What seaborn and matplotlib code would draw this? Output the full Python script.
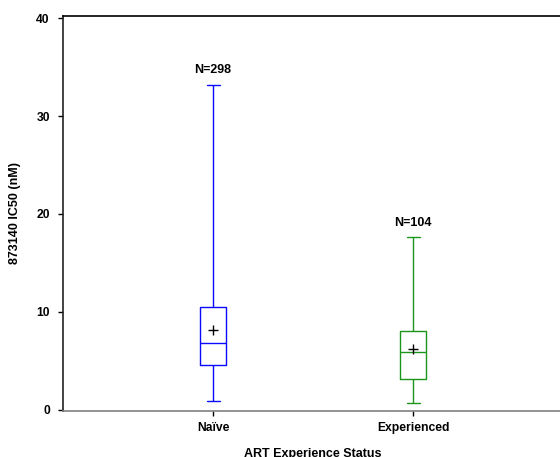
import matplotlib
matplotlib.use("Agg")
import matplotlib.pyplot as plt
import seaborn as sns
import pandas as pd

# five-number summaries
groups = ['Naïve', 'Experienced']
mins = [0.9, 0.7]
q1s = [4.55, 3.1]
medians = [6.8, 5.85]
q3s = [10.45, 8.0]
maxs = [33.2, 17.6]
means = [8.1, 6.2]
counts = [298, 104]

colors = {'Naïve': '#0a0aff', 'Experienced': '#1a961a'}

# 5 points per group -> quartiles land exactly on the summary values
rows = []
for i, g in enumerate(groups):
    for v in [mins[i], q1s[i], medians[i], q3s[i], maxs[i]]:
        rows.append({'status': g, 'ic50': v})
df = pd.DataFrame(rows)

sns.set_style('white')
plt.rcParams['font.family'] = ['Liberation Sans', 'DejaVu Sans']
plt.rcParams['font.weight'] = 'bold'
plt.rcParams['text.color'] = 'black'
plt.rcParams['axes.labelcolor'] = 'black'
plt.rcParams['xtick.color'] = 'black'
plt.rcParams['ytick.color'] = 'black'

fig = plt.figure(figsize=(5.6, 4.57), dpi=100)
ax = fig.add_axes([63 / 560, 46.5 / 457, 500 / 560, 394.5 / 457])

sns.boxplot(data=df, x='status', y='ic50', hue='status', order=groups,
            palette=colors, fill=False, whis=(0, 100), width=0.13,
            linewidth=1.0, legend=False, ax=ax)
sns.scatterplot(x=groups, y=means, marker='+', color='black', s=45,
                linewidth=1.0, ax=ax, zorder=5)

for i, g in enumerate(groups):
    ax.text(i, maxs[i] + 1.2, f'N={counts[i]}', ha='center', va='baseline',
            fontsize=9, fontweight='bold', color='black')

ax.set_xlim(-0.75, 1.75)
ax.set_ylim(-0.1, 40.25)
ax.set_yticks([0, 10, 20, 30, 40])
ax.set_xlabel('ART Experience Status', fontsize=9, fontweight='bold', labelpad=10)
ax.set_ylabel('873140 IC50 (nM)', fontsize=9, fontweight='bold', labelpad=11)
ax.tick_params(axis='both', which='major', labelsize=8.7, direction='out',
               length=3.5, width=1, color='black', labelcolor='black',
               left=True, bottom=True)
ax.tick_params(axis='y', pad=6)
ax.tick_params(axis='x', pad=5)
for lab in ax.get_xticklabels() + ax.get_yticklabels():
    lab.set_fontweight('bold')

ax.spines['right'].set_visible(False)
ax.spines['top'].set_color('black')
ax.spines['left'].set_color('#222222')
ax.spines['bottom'].set_color('#808080')
for s in ['top', 'left', 'bottom']:
    ax.spines[s].set_linewidth(1.2)

fig.savefig('out.png', dpi=100)
